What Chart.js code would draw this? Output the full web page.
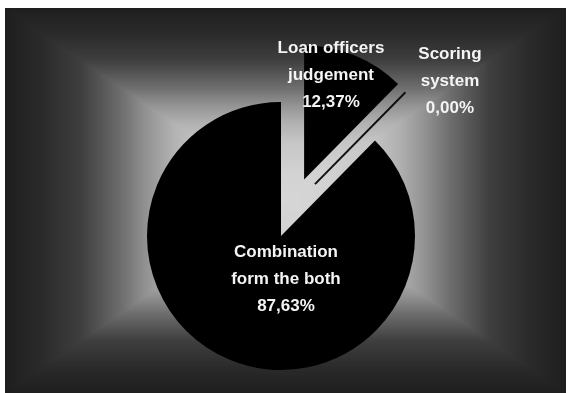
<!DOCTYPE html>
<html>
<head>
<meta charset="utf-8">
<style>
  html, body { margin: 0; padding: 0; background: #fff; overflow: hidden; }
  #wrap { width: 568px; height: 393px; }
</style>
<script src="https://cdn.jsdelivr.net/npm/chart.js@4/dist/chart.umd.min.js"></script>
</head>
<body>
<div id="wrap"><canvas id="chart" width="568" height="393"></canvas></div>
<script>
// Slices, clockwise from 12 o'clock
const categories = [
  ['Loan officers', 'judgement'],
  ['Scoring', 'system'],
  ['Combination', 'form the both']
];
const shares = [12.37, 0.00, 87.63];

// How far each slice is pulled out of the pie, in px
const explode = [61, 62, 0];
// The empty slice is drawn as a thin spoke, nudged into the gap
const zeroSpokeTurn = -0.197;

// Label anchors (middle line), relative to the pie centre in radii
const labelDX = [0.373, 1.261, 0.037];
const labelDY = [-1.201, -1.157, 0.321];

const fmtPct = v => v.toFixed(2).replace('.', ',') + '%';

// Rectangular "from centre" grey backdrop, shaded pixel by pixel
const backdrop = {
  id: 'backdrop',
  beforeDraw(chart) {
    const ctx = chart.ctx;
    const W = chart.canvas.width, H = chart.canvas.height;
    const L = 5, T = 8, R = 566, B = 393;
    const cx = (L + R) / 2, cy = (T + B) / 2;
    const hw = (R - L) / 2, hh = (B - T) / 2;
    // grey level against distance from centre (0 = centre, 1 = edge)
    const ramp = [[0, 214], [0.15, 210], [0.3, 198], [0.4, 178], [0.5, 145], [0.58, 112], [0.66, 85], [0.73, 62], [0.87, 42], [1, 30]];
    const shade = t => {
      for (let k = 1; k < ramp.length; k++) {
        if (t <= ramp[k][0]) {
          const [t0, v0] = ramp[k - 1], [t1, v1] = ramp[k];
          return v0 + (v1 - v0) * (t - t0) / (t1 - t0);
        }
      }
      return ramp[ramp.length - 1][1];
    };
    const img = ctx.createImageData(W, H);
    const px = img.data;
    for (let y = 0; y < H; y++) {
      for (let x = 0; x < W; x++) {
        const o = (y * W + x) * 4;
        let v = 255;
        if (x >= L && x < R && y >= T && y < B) {
          const t = Math.max(Math.abs(x + 0.5 - cx) / hw, Math.abs(y + 0.5 - cy) / hh);
          v = shade(t);
        }
        px[o] = px[o + 1] = px[o + 2] = v;
        px[o + 3] = 255;
      }
    }
    ctx.putImageData(img, 0, 0);
  }
};

// Draw slices pulled out along their bisectors; the empty one as a spoke
const exploded = {
  id: 'exploded',
  beforeDatasetDraw(chart, args) {
    const ctx = chart.ctx;
    args.meta.data.forEach((arc, i) => {
      const d = explode[i] || 0;
      ctx.save();
      if (arc.endAngle - arc.startAngle === 0) {
        const a = arc.startAngle;
        const sx = arc.x + Math.cos(a + zeroSpokeTurn) * d;
        const sy = arc.y + Math.sin(a + zeroSpokeTurn) * d;
        const len = arc.outerRadius - 5;
        ctx.strokeStyle = '#111';
        ctx.lineWidth = 2;
        ctx.beginPath();
        ctx.moveTo(sx, sy);
        ctx.lineTo(sx + Math.cos(a) * len, sy + Math.sin(a) * len);
        ctx.stroke();
      } else {
        const mid = (arc.startAngle + arc.endAngle) / 2;
        ctx.translate(Math.cos(mid) * d, Math.sin(mid) * d);
        arc.draw(ctx, chart.chartArea);
      }
      ctx.restore();
    });
    return false;
  },
  afterDatasetsDraw(chart) {
    const ctx = chart.ctx;
    const meta = chart.getDatasetMeta(0);
    const data = chart.data.datasets[0].data;
    const total = data.reduce((s, v) => s + v, 0);
    ctx.save();
    ctx.fillStyle = '#f4f4f4';
    ctx.font = 'bold 17px "Liberation Sans", Arial, sans-serif';
    ctx.textAlign = 'center';
    ctx.textBaseline = 'middle';
    meta.data.forEach((arc, i) => {
      const r = arc.outerRadius;
      const x = arc.x + labelDX[i] * r;
      const y = arc.y + labelDY[i] * r;
      const lines = [...chart.data.labels[i], fmtPct(data[i] / total * 100)];
      const lh = 27;
      lines.forEach((t, k) => ctx.fillText(t, x, y + (k - 1) * lh));
    });
    ctx.restore();
  }
};

new Chart(document.getElementById('chart'), {
  type: 'pie',
  data: {
    labels: categories,
    datasets: [{
      data: shares,
      backgroundColor: ['#000', '#000', '#000'],
      borderWidth: 0
    }]
  },
  options: {
    responsive: false,
    animation: false,
    layout: { padding: { left: 147, right: 153, top: 102, bottom: 23 } },
    plugins: {
      legend: { display: false },
      tooltip: { enabled: false }
    }
  },
  plugins: [backdrop, exploded]
});
</script>
</body>
</html>
